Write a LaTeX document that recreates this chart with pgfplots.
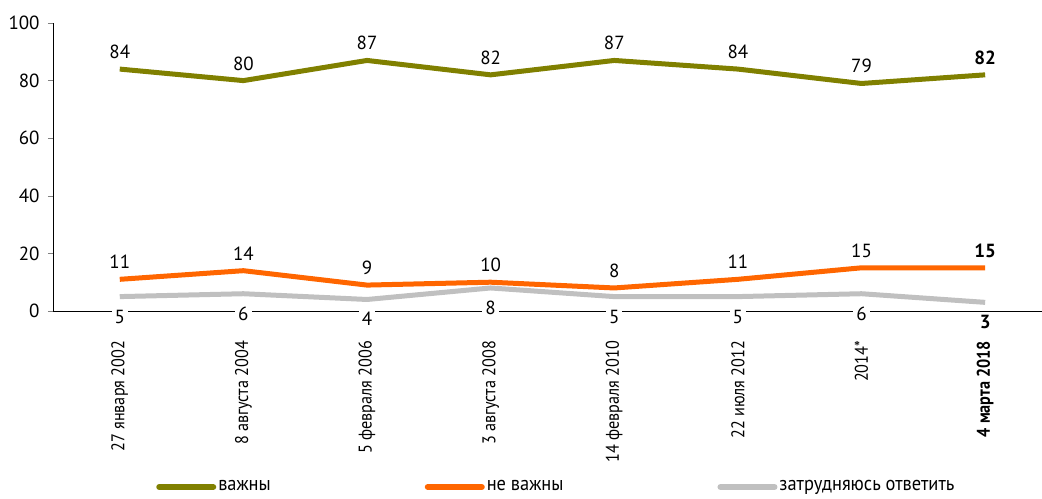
\documentclass[border=0pt]{standalone}
\usepackage{fontspec}
\setmainfont{PT Sans}
\newfontfamily\narrowfont{PT Sans}[FakeStretch=0.88]
\newfontfamily\legendfont{PT Sans}[FakeStretch=0.92]
\usepackage{pgfplots}
\pgfplotsset{compat=1.18}
\definecolor{cgreen}{RGB}{128,128,0}
\definecolor{corange}{RGB}{255,102,0}
\definecolor{cgray}{RGB}{192,192,192}
\begin{document}
\begin{tikzpicture}
\begin{axis}[
  scale only axis,
  width=494.5pt, height=144pt,
  xmin=-0.54, xmax=7.46,
  ymin=0, ymax=100,
  axis x line=bottom, axis y line=left,
  axis line style={-, black, line width=0.5pt},
  ytick={0,20,...,100},
  ytick align=outside,
  major tick length=2.5pt,
  yticklabel style={font=\fontsize{9.5}{11}\selectfont, inner sep=0pt, xshift=-4pt},
  /pgf/number format/assume math mode=true,
  xtick={0,...,7},
  xtick style={draw=none},
  xticklabels={27 января 2002, 8 августа 2004, 5 февраля 2006, 3 августа 2008, 14 февраля 2010, 22 июля 2012, 2014*, \textbf{4 марта 2018}},
  xticklabel style={rotate=90, anchor=east, inner sep=0pt, font=\narrowfont\fontsize{9.2}{11}\selectfont},
  xticklabel shift=13.5pt,
  extra x ticks={0.5,1.5,...,6.5},
  extra x tick labels={},
  extra x tick style={tick style={draw=black, line width=0.4pt}, major tick length=2pt, tick align=center},
  clip=false,
  legend columns=3,
  legend style={at={(0.104,-0.611)}, anchor=west, draw=none, fill=none, inner sep=0pt,
    font=\legendfont\fontsize{10}{12}\selectfont,
    nodes={inner xsep=1pt, inner ysep=0pt},
    /tikz/every even column/.append style={column sep=76pt}},
  legend image code/.code={\draw[#1, line width=3pt, line cap=round] (0pt,0pt) -- (27pt,0pt);},
  nodes near coords,
  point meta=explicit symbolic,
  every node near coord/.append style={font=\fontsize{9.5}{11}\selectfont, inner sep=0pt, anchor=base, text=black},
]
\addplot[cgreen, line width=2.5pt, line join=round, nodes near coords style={yshift=5.25pt}] coordinates {
  (0,84) [84] (1,80) [80] (2,87) [87] (3,82) [82] (4,87) [87] (5,84) [84] (6,79) [79] (7,82) [\textbf{82}]
};
\addlegendentry{важны}
\addplot[corange, line width=2.5pt, line join=round, nodes near coords style={yshift=5.25pt}] coordinates {
  (0,11) [11] (1,14) [14] (2,9) [9] (3,10) [10] (4,8) [8] (5,11) [11] (6,15) [15] (7,15) [\textbf{15}]
};
\addlegendentry{не важны}
\addplot[cgray, line width=2.5pt, line join=round, nodes near coords style={yshift=-13.25pt, fill=white, inner xsep=1.5pt, inner ysep=0.5pt}] coordinates {
  (0,5) [5] (1,6) [6] (2,4) [4] (3,8) [8] (4,5) [5] (5,5) [5] (6,6) [6] (7,3) [\textbf{3}]
};
\addlegendentry{затрудняюсь ответить}
\end{axis}
\pgfresetboundingbox
\path[use as bounding box] (-26.5pt,-93.5pt) rectangle (494.5pt,155.5pt);
\end{tikzpicture}
\end{document}
